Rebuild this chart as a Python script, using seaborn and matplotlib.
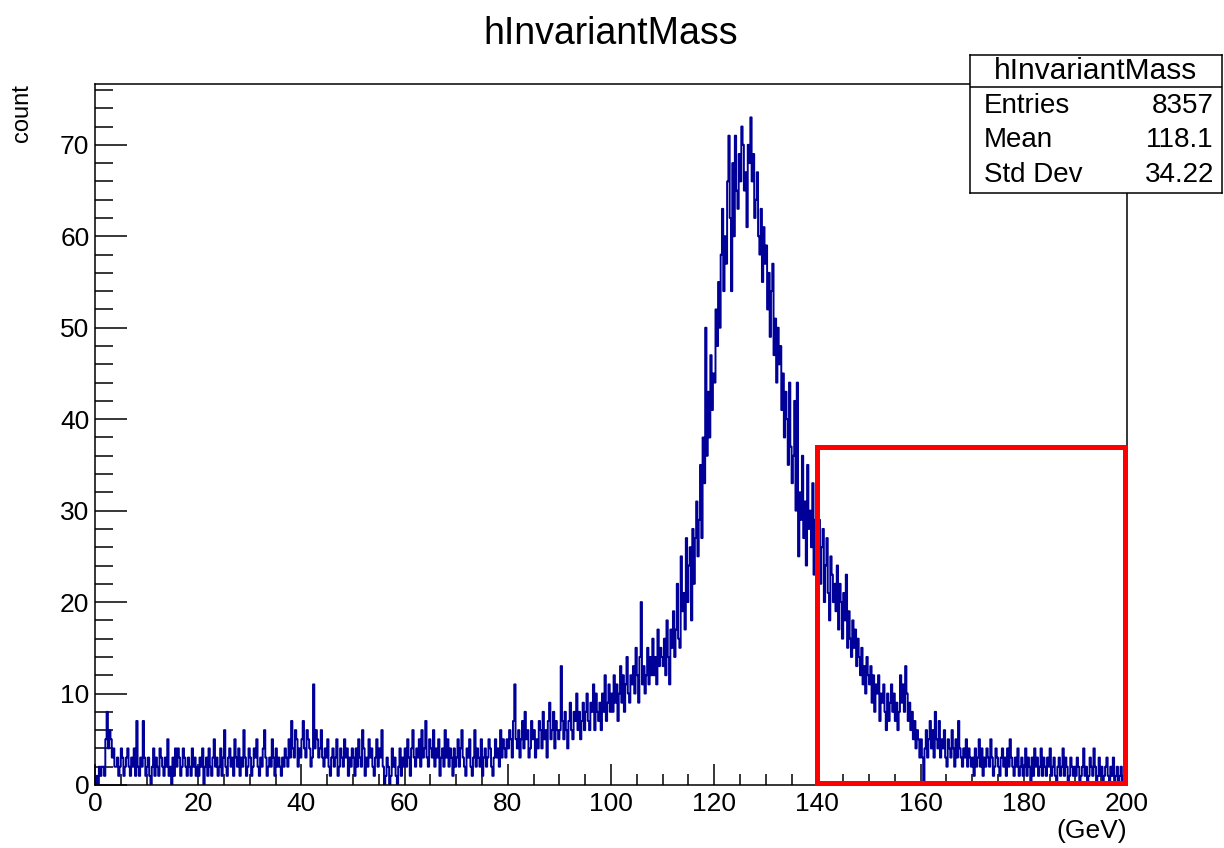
import numpy as np
import pandas as pd
import matplotlib
matplotlib.use("Agg")
import matplotlib.pyplot as plt
from matplotlib.patches import Rectangle
from matplotlib.ticker import MultipleLocator
import seaborn as sns

# Invariant-mass histogram: 800 bins of 0.25 GeV between 0 and 200 GeV.
# Each row below holds the counts of one 10 GeV slice (40 bins).
mass_range = (0.0, 200.0)
bin_width = 0.25
counts_by_slice = [
    [0,1,0,2,1,2,2,1, 5,8,4,6,5,3,4,2, 2,3,1,2,4,3,1,2, 3,4,2,1,3,2,4,1, 7,2,1,3,2,7,3,1],
    [2,3,1,0,2,4,1,3, 2,1,4,3,2,1,3,2, 5,1,2,0,3,1,4,2, 4,3,1,2,4,3,2,1, 3,2,1,4,2,3,1,2],
    [1,3,2,4,0,2,3,1, 4,2,1,3,5,2,3,1, 2,4,1,3,6,2,1,3, 4,2,3,1,5,3,2,4, 1,3,2,6,3,1,2,4],
    [3,1,2,4,3,5,2,1, 3,2,4,6,3,1,2,3, 2,5,3,1,4,2,3,2, 1,3,2,4,3,2,5,3, 7,4,3,6,5,2,4,3],
    [5,7,4,3,6,5,4,2, 3,11,4,6,5,3,4,6, 3,2,4,3,5,2,1,3, 4,2,3,5,1,2,4,3, 2,5,3,4,1,3,2,4],
    [3,1,4,2,5,3,2,6, 4,1,3,2,5,3,4,2, 1,3,5,2,4,3,6,2, 0,1,3,2,0,1,4,2, 3,1,0,2,4,1,3,2],
    [4,2,5,3,1,4,6,3, 2,4,3,5,2,6,3,4, 7,3,2,5,4,3,6,2, 4,3,5,1,3,4,2,6, 3,5,2,4,3,1,4,2],
    [3,5,2,4,6,3,2,1, 4,3,5,2,1,3,6,2, 4,3,2,5,1,3,4,2, 3,5,4,2,1,3,5,3, 4,2,6,3,5,4,3,5],
    [4,6,5,3,7,11,5,4, 6,3,5,7,4,8,5,6, 3,4,7,5,6,3,5,4, 7,6,4,8,5,6,3,7, 9,5,6,8,4,7,6,5],
    [6,13,7,5,8,6,4,7, 9,6,5,8,7,10,6,8, 5,7,9,6,8,10,7,6, 9,8,11,6,10,8,7,9, 6,10,8,12,7,9,11,8],
    [10,8,12,9,11,7,10,13, 9,12,8,11,14,10,9,12, 11,13,10,15,12,9,14,20, 11,13,10,12,15,11,14,12, 16,12,14,11,17,13,15,14],
    [13,16,12,18,14,11,17,15, 19,14,17,22,16,15,25,19, 21,17,27,20,24,26,18,28, 22,27,31,25,29,35,27,38, 33,50,36,43,38,47,41,45],
    [44,52,48,55,50,58,63,54, 60,57,66,71,62,54,68,60, 71,65,63,69,66,72,70,65, 67,61,70,68,73,66,69,62, 64,67,60,58,63,55,61,57],
    [59,52,56,49,54,57,47,51, 44,50,46,48,41,45,38,43, 40,35,44,37,33,36,42,30, 44,25,32,29,36,27,31,24, 35,28,30,26,33,23,29,27],
    [25,29,22,26,28,20,24,27, 21,18,25,23,20,22,19,24, 17,22,20,16,21,18,23,15, 19,16,14,18,15,17,13,16, 14,12,15,11,13,10,14,12],
    [11,13,9,12,8,11,10,12, 7,10,9,11,8,6,10,7, 9,11,8,10,7,9,6,8, 12,9,11,8,13,10,7,9, 6,8,5,7,4,6,5,3],
    [5,3,0,4,6,3,5,7, 4,6,3,8,5,4,7,3, 5,4,6,3,2,5,4,3, 6,4,2,5,3,7,4,3, 2,4,3,5,2,4,3,2],
    [3,1,4,2,3,5,2,4, 1,3,2,4,3,2,5,3, 1,2,4,3,2,1,3,4, 2,3,1,4,2,5,3,2, 1,3,2,4,1,2,3,1],
    [2,4,1,3,2,0,3,1, 4,2,3,1,2,4,1,3, 2,1,3,2,4,1,2,3, 1,0,2,3,1,2,4,1, 3,2,0,1,3,2,1,2],
    [1,3,2,0,1,2,4,1, 2,0,1,3,2,1,4,2, 0,1,3,1,2,0,1,2, 3,1,0,2,1,3,0,1, 2,0,1,2,0,1,1,0],
]

# Statistics panel entries
hist_name = "hInvariantMass"
stat_labels = ["Entries", "Mean", "Std Dev"]
stat_values = ["8357", "118.1", "34.22"]

# Highlighted window (GeV, counts)
highlight_x = (140.0, 199.6)
highlight_y = (0.2, 37.0)

x_ticks = [0, 20, 40, 60, 80, 100, 120, 140, 160, 180, 200]
y_ticks = [0, 10, 20, 30, 40, 50, 60, 70]

counts = np.concatenate([np.asarray(r, dtype=float) for r in counts_by_slice])
n_bins = counts.size
centers = mass_range[0] + bin_width * (np.arange(n_bins) + 0.5)
hist_df = pd.DataFrame({"mass": centers, "count": counts})

sns.set_theme(style="white")
plt.rcParams["font.family"] = ["Liberation Sans", "DejaVu Sans"]
plt.rcParams["axes.edgecolor"] = "black"
plt.rcParams["axes.linewidth"] = 1.1

fig = plt.figure(figsize=(12.24, 8.48), dpi=100)
ax = fig.add_axes([95 / 1224, 1 - 785 / 848, 1032 / 1224, 701 / 848])

sns.histplot(data=hist_df, x="mass", weights="count", binwidth=bin_width,
             binrange=mass_range, element="step", fill=False,
             color="#000099", linewidth=1.4, ax=ax)

ax.set_xlim(*mass_range)
ax.set_ylim(0, 1.05 * counts.max())

ax.set_xticks(x_ticks)
ax.set_yticks(y_ticks)
ax.xaxis.set_minor_locator(MultipleLocator(5))
ax.yaxis.set_minor_locator(MultipleLocator(2))
ax.tick_params(axis="both", which="both", direction="in", color="black",
               width=1.1, labelsize=19, labelcolor="black",
               bottom=True, left=True, top=False, right=False)
ax.tick_params(axis="x", which="major", length=15, pad=5)
ax.tick_params(axis="x", which="minor", length=8)
ax.tick_params(axis="y", which="major", length=23, pad=4)
ax.tick_params(axis="y", which="minor", length=13)
ax.grid(False)

ax.set_xlabel("(GeV)", loc="right", fontsize=19, labelpad=2, color="black")
ax.set_ylabel("count", loc="top", fontsize=17, color="black")
ax.yaxis.set_label_coords(-0.060, 1.0)
ax.set_title(hist_name, fontsize=27, pad=29, color="black")

# Highlight box around the high-mass tail
ax.add_patch(Rectangle((highlight_x[0], highlight_y[0]),
                       highlight_x[1] - highlight_x[0],
                       highlight_y[1] - highlight_y[0],
                       fill=False, edgecolor="#ff0000", linewidth=3.6,
                       zorder=5, clip_on=False))

# Statistics panel
sax = fig.add_axes([970 / 1224, 1 - 193 / 848, 252 / 1224, 138 / 848])
sax.set_xlim(0, 1)
sax.set_ylim(0, 1)
sax.set_xticks([])
sax.set_yticks([])
sax.set_facecolor("white")
for sp in sax.spines.values():
    sp.set_color("black")
    sp.set_linewidth(1.1)
sax.axhline(0.768, color="black", linewidth=1.1)
sax.text(0.5, 0.884, hist_name, ha="center", va="center", fontsize=21.5, color="black")
row_y = [0.63, 0.384, 0.13]
for lab, val, yy in zip(stat_labels, stat_values, row_y):
    sax.text(0.056, yy, lab, ha="left", va="center", fontsize=20, color="black")
    sax.text(0.968, yy, val, ha="right", va="center", fontsize=20, color="black")

fig.savefig("out.png", dpi=100)
